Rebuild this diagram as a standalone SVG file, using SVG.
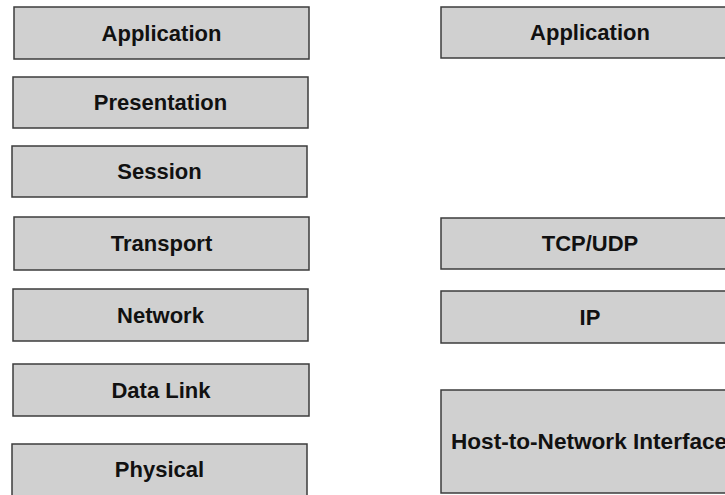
<svg xmlns="http://www.w3.org/2000/svg" width="725" height="495" viewBox="0 0 725 495">
<style>
.box{fill:#d0d0d0;stroke:#3c3c3c;stroke-width:1.5}
.lbl{font-family:"Liberation Sans",Arial,sans-serif;font-weight:bold;font-size:22px;fill:#111;text-anchor:middle}
</style>
<rect width="725" height="495" fill="#ffffff"/>
<g id="osi-application"><rect class="box" x="14" y="7" width="295" height="52"/><text class="lbl" x="161.5" y="41">Application</text></g>
<g id="osi-presentation"><rect class="box" x="13" y="77" width="295" height="51"/><text class="lbl" x="160.5" y="110">Presentation</text></g>
<g id="osi-session"><rect class="box" x="12" y="146" width="295" height="51"/><text class="lbl" x="159.5" y="179">Session</text></g>
<g id="osi-transport"><rect class="box" x="14" y="217" width="295" height="53"/><text class="lbl" x="161.5" y="251">Transport</text></g>
<g id="osi-network"><rect class="box" x="13" y="289" width="295" height="52"/><text class="lbl" x="160.5" y="323">Network</text></g>
<g id="osi-datalink"><rect class="box" x="13" y="364" width="296" height="52"/><text class="lbl" x="161" y="398">Data Link</text></g>
<g id="osi-physical"><rect class="box" x="12" y="444" width="295" height="60"/><text class="lbl" x="159.5" y="477">Physical</text></g>
<g id="tcp-application"><rect class="box" x="441" y="7" width="298" height="51"/><text class="lbl" x="590" y="40">Application</text></g>
<g id="tcp-transport"><rect class="box" x="441" y="218" width="298" height="51"/><text class="lbl" x="590" y="251">TCP/UDP</text></g>
<g id="tcp-ip"><rect class="box" x="441" y="291" width="298" height="52"/><text class="lbl" x="590" y="325">IP</text></g>
<g id="tcp-host"><rect class="box" x="441" y="390" width="298" height="103"/><text class="lbl" x="451" y="449" style="text-anchor:start;font-size:22.6px">Host-to-Network Interface</text></g>
<g id="connectors"></g>
</svg>
